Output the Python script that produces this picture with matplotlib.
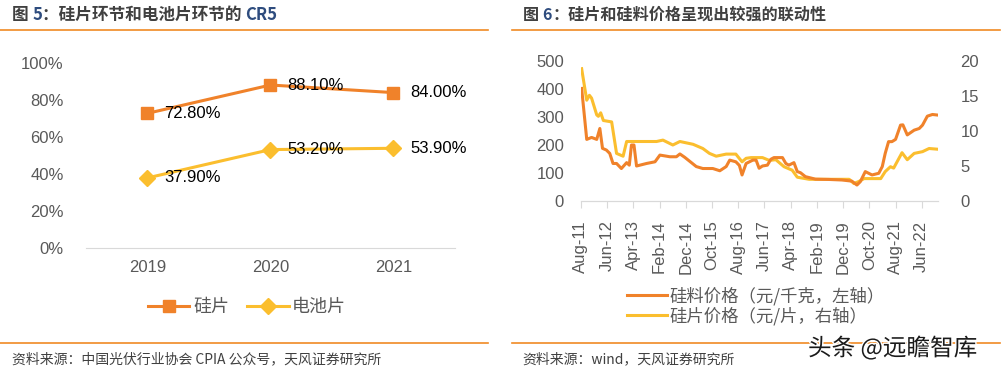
import matplotlib
matplotlib.use("Agg")
import matplotlib.pyplot as plt
import matplotlib.patheffects as pe
from matplotlib.lines import Line2D
from matplotlib.text import Annotation
import pandas as pd

plt.rcParams['font.family'] = ['Liberation Sans', 'Noto Sans CJK SC', 'DejaVu Sans']

# ---- 图5 数据 ----
anos = ['2019', '2020', '2021']
cr5_guipian = [0.728, 0.881, 0.840]
cr5_dianchi = [0.379, 0.532, 0.539]

# ---- 图6 数据 ----
fechas_guiliao = ['2011-08-12', '2011-10-10', '2011-12-05', '2012-02-03', '2012-03-10', '2012-04-10',
                  '2012-05-25', '2012-07-03', '2012-08-10', '2012-09-20', '2012-11-15', '2013-01-15',
                  '2013-02-15', '2013-03-12', '2013-04-10', '2013-05-10', '2013-09-03', '2013-12-10',
                  '2014-02-05', '2014-06-01', '2014-08-15', '2014-09-25', '2014-11-20', '2015-04-03',
                  '2015-06-18', '2015-10-12', '2016-01-01', '2016-03-15', '2016-04-25', '2016-07-05',
                  '2016-08-15', '2016-09-15', '2016-11-01', '2017-01-18', '2017-02-25', '2017-04-01',
                  '2017-05-10', '2017-07-06', '2017-08-15', '2017-09-20', '2017-12-28', '2018-02-05',
                  '2018-03-12', '2018-05-10', '2018-06-18', '2018-07-25', '2018-09-20', '2019-01-15',
                  '2019-06-18', '2019-11-18', '2020-03-12', '2020-05-10', '2020-06-18', '2020-08-15',
                  '2020-11-01', '2021-01-18', '2021-02-28', '2021-04-03', '2021-05-12', '2021-06-20',
                  '2021-08-01', '2021-09-28', '2021-10-25', '2021-12-15', '2022-03-05', '2022-05-03',
                  '2022-06-10', '2022-08-05', '2022-10-03', '2022-11-30']
precio_guiliao = [402, 220, 227, 220, 259, 188,
                  182, 170, 134, 134, 116, 137,
                  128, 200, 200, 125, 134, 140,
                  164, 158, 158, 168, 156, 123,
                  116, 116, 108, 123, 146, 140,
                  127, 93, 134, 146, 146, 117,
                  125, 128, 149, 155, 155, 134,
                  128, 137, 105, 101, 87, 78,
                  77, 75, 71, 57, 69, 105,
                  93, 99, 123, 170, 212, 212,
                  220, 271, 272, 236, 253, 259,
                  271, 303, 309, 307]

fechas_guipian = ['2011-08-12', '2011-10-10', '2011-11-10', '2011-12-05', '2012-02-03', '2012-02-22',
                  '2012-03-20', '2012-04-20', '2012-07-25', '2012-09-20', '2012-12-05', '2013-01-15',
                  '2013-12-28', '2014-03-12', '2014-07-05', '2014-09-25', '2015-02-25', '2015-06-18',
                  '2015-09-03', '2015-11-20', '2016-03-15', '2016-07-05', '2016-09-15', '2016-11-01',
                  '2016-12-28', '2017-05-10', '2017-07-28', '2017-10-12', '2018-01-15', '2018-04-20',
                  '2018-06-18', '2018-11-03', '2020-02-10', '2020-04-05', '2020-06-03', '2020-08-01',
                  '2021-02-10', '2021-04-03', '2021-06-03', '2021-07-10', '2021-10-15', '2021-12-15',
                  '2022-03-05', '2022-06-10', '2022-08-25', '2022-11-30']
precio_guipian = [18.9, 14.4, 15.1, 14.7, 12.3, 12.1,
                  12.6, 11.5, 11.3, 6.8, 6.4, 8.5,
                  8.5, 8.7, 8.0, 8.5, 8.1, 7.5,
                  6.8, 6.4, 6.7, 6.7, 5.6, 6.1,
                  6.2, 6.2, 5.8, 5.9, 4.9, 4.4,
                  3.4, 3.1, 3.1, 2.5, 2.8, 3.2,
                  3.2, 4.2, 4.9, 4.7, 6.9, 5.9,
                  6.8, 7.05, 7.5, 7.4]

NARANJA = '#F0822A'
AMARILLO = '#FBBE2E'
GRIS = '#595959'
EJE = '#D9D9D9'
AZUL = '#2E4C7E'
CJK = ['Noto Sans CJK SC', 'DejaVu Sans']

W, H = 1003, 370
fig = plt.figure(figsize=(W / 100, H / 100), dpi=100)


def fx(px):
    return px / W


def fy(py):
    return 1 - py / H


# ---- titulos y lineas de separacion ----
def titulo_partes(x, partes, tam):
    prev = None
    for s, c in partes:
        if prev is None:
            prev = fig.text(fx(x), fy(15), s, color=c, fontsize=tam, fontweight='bold',
                            family=CJK, va='center', ha='left')
        else:
            prev = fig.add_artist(Annotation(s, xy=(1, 0.5), xycoords=prev, va='center', ha='left',
                                             color=c, fontsize=tam, fontweight='bold', family=CJK,
                                             annotation_clip=False))


titulo_partes(12, [('图 ', '#404040'), ('5', AZUL), ('：硅片环节和电池片环节的 ', '#404040'), ('CR5', AZUL)], 12)
titulo_partes(523, [('图 ', '#404040'), ('6', AZUL), ('：硅片和硅料价格呈现出较强的联动性', '#404040')], 11.6)

for x0, x1 in [(0, 488), (512, 1000)]:
    fig.add_artist(Line2D([fx(x0), fx(x1)], [fy(30), fy(30)], color='#F08A24', lw=1.2))
    fig.add_artist(Line2D([fx(x0), fx(x1)], [fy(343), fy(343)], color='#F08A24', lw=1.2))

fig.text(fx(12), fy(359), '资料来源：中国光伏行业协会 CPIA 公众号，天风证券研究所', fontsize=10,
         family=CJK, color='#404040', va='center')
fig.text(fx(522), fy(359), '资料来源：wind，天风证券研究所', fontsize=10,
         family=CJK, color='#404040', va='center')

# ---- 图5 ----
ax1 = fig.add_axes([fx(86), fy(248), fx(455 - 86), (248 - 63) / H])
xs = range(len(anos))
ax1.plot(xs, cr5_guipian, color=NARANJA, lw=2.2, marker='s', ms=9, label='硅片')
ax1.plot(xs, cr5_dianchi, color=AMARILLO, lw=2.2, marker='D', ms=8, label='电池片')
for i in xs:
    ax1.annotate(f'{cr5_guipian[i] * 100:.2f}%', (i, cr5_guipian[i]), xytext=(12, 0),
                 textcoords='offset points', va='center', ha='left', fontsize=12, color='black')
    ax1.annotate(f'{cr5_dianchi[i] * 100:.2f}%', (i, cr5_dianchi[i]), xytext=(12, 0),
                 textcoords='offset points', va='center', ha='left', fontsize=12, color='black')
ax1.set_xlim(-0.5, 2.5)
ax1.set_ylim(0, 1)
ax1.set_xticks(list(xs))
ax1.set_xticklabels(anos)
ax1.set_yticks([0, 0.2, 0.4, 0.6, 0.8, 1.0])
ax1.set_yticklabels(['0%', '20%', '40%', '60%', '80%', '100%'])
ax1.tick_params(axis='both', length=0, labelsize=12, labelcolor=GRIS)
ax1.tick_params(axis='x', pad=9)
ax1.tick_params(axis='y', pad=16)
for lado in ['top', 'left', 'right']:
    ax1.spines[lado].set_visible(False)
ax1.spines['bottom'].set_color(EJE)
ax1.patch.set_alpha(0)
leg1 = fig.legend(loc='center', bbox_to_anchor=(fx(247), fy(307)), ncol=2, frameon=False,
                  handles=ax1.get_lines(), prop={'family': CJK, 'size': 13},
                  handlelength=2.3, columnspacing=1.0, handletextpad=0.2)
for t in leg1.get_texts():
    t.set_color(GRIS)

# ---- 图6 ----
ax2 = fig.add_axes([fx(580.7), fy(201), fx(938.3 - 580.7), 140 / H])
ax3 = ax2.twinx()
l1, = ax2.plot(pd.to_datetime(fechas_guiliao), precio_guiliao, color=NARANJA, lw=2.2,
               label='硅料价格（元/千克，左轴）')
l2, = ax3.plot(pd.to_datetime(fechas_guipian), precio_guipian, color=AMARILLO, lw=2.2,
               label='硅片价格（元/片，右轴）')
ax2.set_zorder(ax3.get_zorder() + 1)
ax2.patch.set_visible(False)
ax2.set_ylim(0, 500)
ax3.set_ylim(0, 20)
ax2.set_yticks([0, 100, 200, 300, 400, 500])
ax3.set_yticks([0, 5, 10, 15, 20])
ax2.set_xlim(pd.Timestamp('2011-08-01'), pd.Timestamp('2022-12-10'))
ticks = pd.date_range('2011-08-01', periods=14, freq='10MS')
ax2.set_xticks(ticks)
ax2.set_xticklabels([d.strftime('%b-%y') for d in ticks], rotation=90)
ax2.tick_params(axis='x', length=5, color=EJE, labelsize=12, labelcolor=GRIS, pad=9)
ax2.tick_params(axis='y', length=0, labelsize=12, labelcolor=GRIS, pad=12)
ax3.tick_params(axis='y', length=0, labelsize=12, labelcolor=GRIS, pad=16)
for a in (ax2, ax3):
    for lado in ['top', 'left', 'right']:
        a.spines[lado].set_visible(False)
    a.spines['bottom'].set_color(EJE)

leg2 = fig.legend(handles=[l1, l2], loc='upper left', bbox_to_anchor=(fx(611), fy(271)),
                  ncol=1, frameon=False, prop={'family': CJK, 'size': 12.5},
                  handlelength=2.3, handletextpad=0.15, labelspacing=0.1)
for t in leg2.get_texts():
    t.set_color(GRIS)

# marca de agua
fig.text(fx(808), fy(348), '头条 @远瞻智库', fontsize=17, family=CJK, color='#1A1A1A',
         va='center', ha='left',
         path_effects=[pe.withStroke(linewidth=2, foreground='white')])

fig.savefig('out.png', dpi=100)
